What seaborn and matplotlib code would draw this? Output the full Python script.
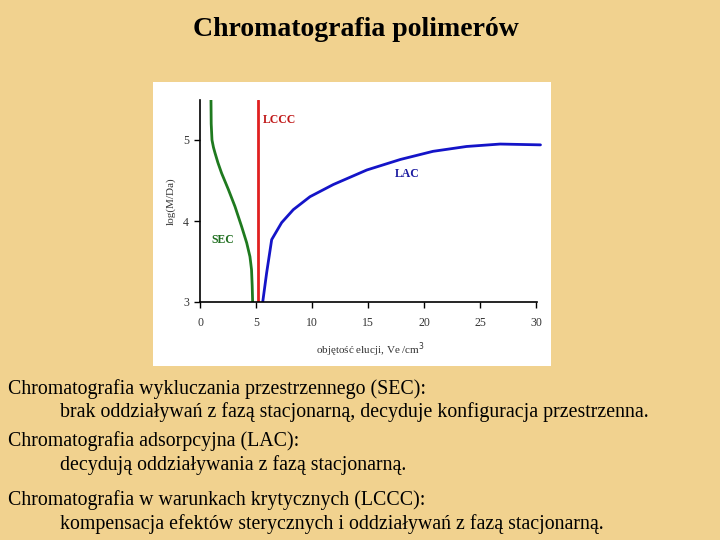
import numpy as np
import pandas as pd
import seaborn as sns
import matplotlib.pyplot as plt
from matplotlib.patches import Rectangle

# --- Data ---
sec_x = [0.98, 1.00, 1.07, 1.20, 1.34, 1.60, 1.93, 2.53, 3.12, 3.72, 4.17, 4.46, 4.60, 4.66, 4.70]
sec_y = [5.50, 5.20, 5.00, 4.91, 4.84, 4.72, 4.59, 4.39, 4.18, 3.93, 3.73, 3.56, 3.40, 3.20, 3.00]

lccc_x = [5.15, 5.15]
lccc_y = [3.00, 5.50]

lac_x = [5.60, 5.95, 6.40, 7.29, 8.33, 9.82, 11.9, 14.9, 17.9, 20.8, 23.8, 26.8, 30.4]
lac_y = [3.00, 3.36, 3.77, 3.98, 4.14, 4.30, 4.45, 4.63, 4.76, 4.86, 4.92, 4.95, 4.94]

x_ticks = [0, 5, 10, 15, 20, 25, 30]
y_ticks = [3, 4, 5]

title = "Chromatografia polimerów"
body_lines = [
    ("Chromatografia wykluczania przestrzennego (SEC):", 0),
    ("brak oddziaływań z fazą stacjonarną, decyduje konfiguracja przestrzenna.", 1),
    ("Chromatografia adsorpcyjna (LAC):", 0),
    ("decydują oddziaływania z fazą stacjonarną.", 1),
    ("Chromatografia w warunkach krytycznych (LCCC):", 0),
    ("kompensacja efektów sterycznych i oddziaływań z fazą stacjonarną.", 1),
]
body_y = [389, 412, 441, 465, 500, 524]

sns.set_style("ticks")
plt.rcParams['font.family'] = ['Liberation Serif', 'DejaVu Serif']

W, H = 720, 540
fig = plt.figure(figsize=(7.2, 5.4), dpi=100)
fig.patch.set_facecolor('#F1D28F')

# white panel behind the chart
fig.patches.append(Rectangle((153 / W, 1 - 366 / H), 398 / W, 284 / H,
                             transform=fig.transFigure, facecolor='white',
                             edgecolor='none', zorder=-5))

# axes placed by pixels: x=0 at 200px, 11.2 px per unit; y=3 at 302px, 81 px per unit
x_max, y_max = 30.5, 5.5
ax = fig.add_axes([200 / W, 1 - 302 / H, x_max * 11.2 / W, (y_max - 3) * 81 / H])
ax.set_facecolor('none')
ax.set_zorder(2)

sns.lineplot(x=sec_x, y=sec_y, sort=False, estimator=None, ax=ax,
             color='#1F7A1F', linewidth=2.0)
sns.lineplot(x=lccc_x, y=lccc_y, sort=False, estimator=None, ax=ax,
             color='#E02020', linewidth=2.0)
sns.lineplot(x=lac_x, y=lac_y, sort=False, estimator=None, ax=ax,
             color='#1414C8', linewidth=2.0)

ax.set_xlim(0, x_max)
ax.set_ylim(3, y_max)
ax.set_xticks(x_ticks)
ax.set_yticks(y_ticks)
sns.despine(ax=ax)
ax.spines['bottom'].set_bounds(0, 30.1)
for s in ['left', 'bottom']:
    ax.spines[s].set_linewidth(1.2)
    ax.spines[s].set_color('black')
ax.tick_params(direction='out', length=4, width=1, colors='black',
               labelsize=8.5, labelcolor='#333333')
ax.tick_params(axis='x', pad=7)
ax.tick_params(axis='y', pad=4)

ax.set_xlabel("objętość elucji, Ve /cm$^3$", fontsize=8, color='#333333', labelpad=8)
ax.set_ylabel("log(M/Da)", fontsize=8, color='#333333', labelpad=5)

ax.text(5.6, 5.25, "LCCC", color='#C01818', fontsize=8.5, fontweight='bold', va='center')
ax.text(17.4, 4.58, "LAC", color='#1A1AA0', fontsize=8.5, fontweight='bold', va='center')
ax.text(1.05, 3.77, "SEC", color='#1F6E1F', fontsize=8.5, fontweight='bold', va='center')

# slide text
fig.text(356 / W, 1 - 30 / H, title, ha='center', va='center',
         fontsize=20, fontweight='bold', color='black')
for (txt, lvl), y in zip(body_lines, body_y):
    fig.text((8 if lvl == 0 else 60) / W, 1 - y / H, txt, ha='left', va='center',
             fontsize=14.3, color='black')

plt.savefig("out.png", dpi=100, facecolor=fig.get_facecolor())
